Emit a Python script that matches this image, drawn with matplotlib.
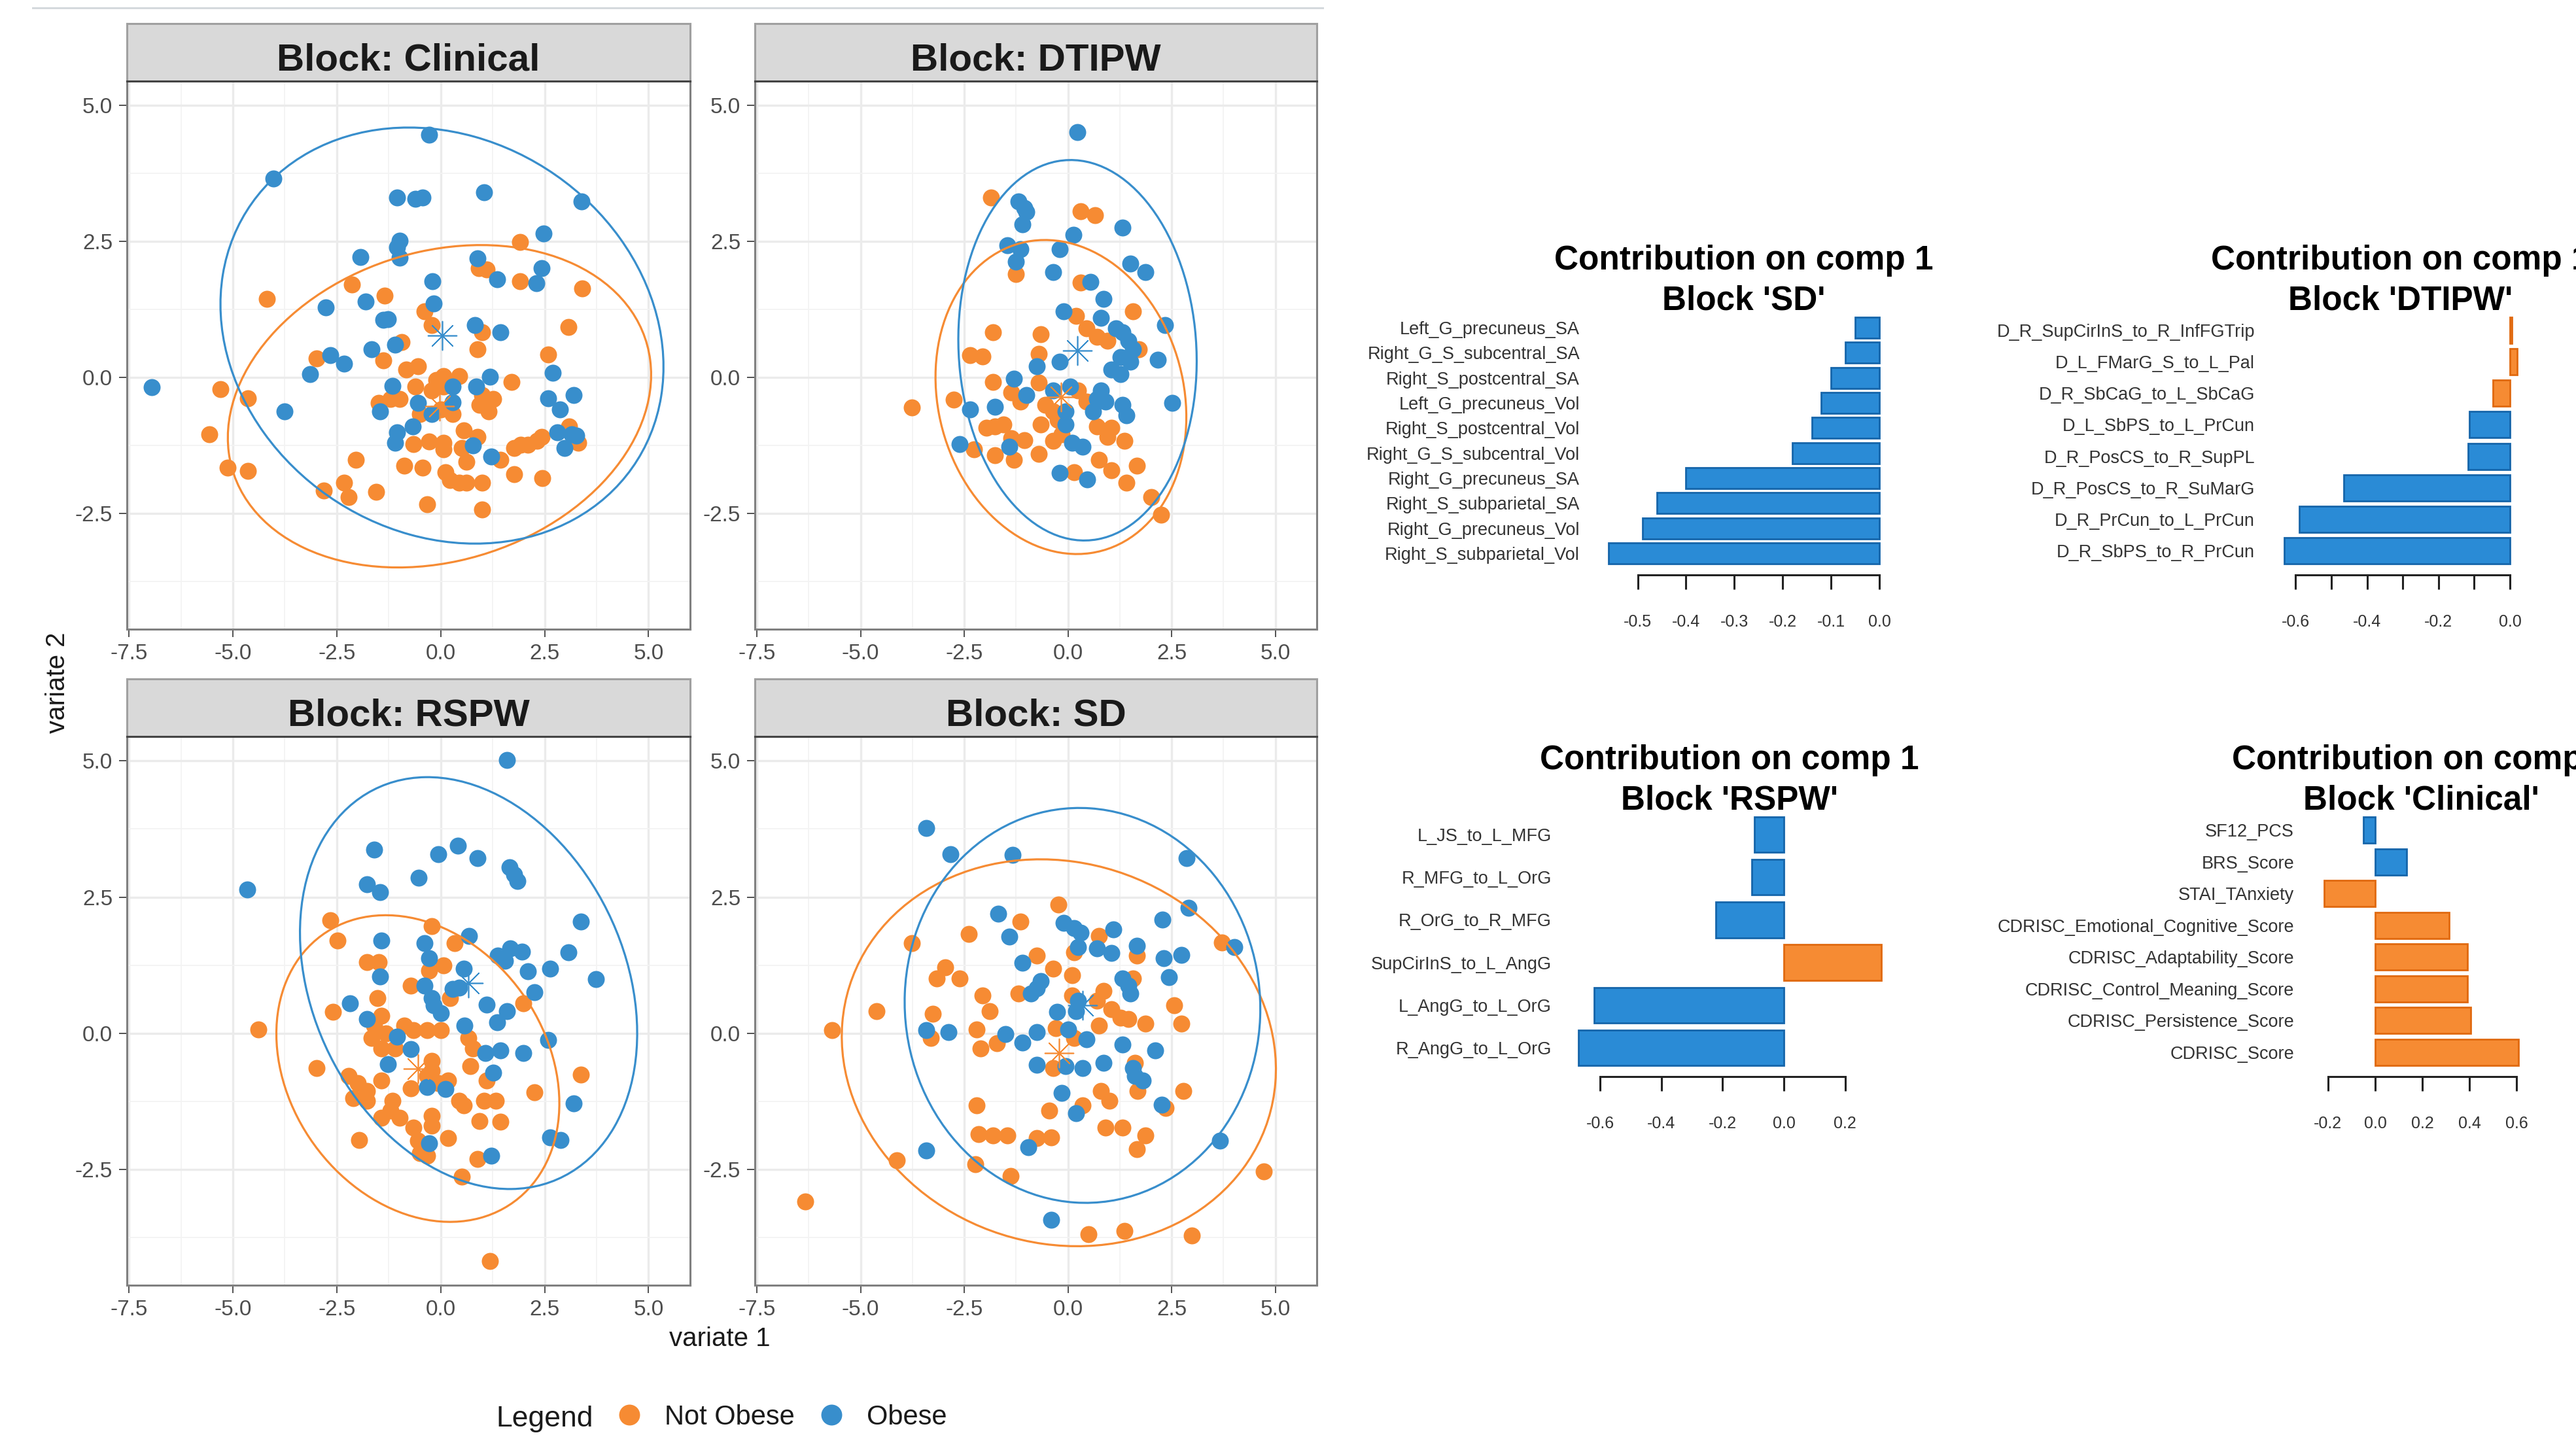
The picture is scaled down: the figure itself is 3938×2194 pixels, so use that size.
import numpy as np
import matplotlib
matplotlib.use('Agg')
import matplotlib.pyplot as plt
from matplotlib.patches import Ellipse
from matplotlib.lines import Line2D

plt.rcParams['font.family'] = ['Liberation Sans', 'DejaVu Sans']
plt.rcParams['axes.unicode_minus'] = False

W, H, DPI = 3938, 2194, 100
PT = 72 / DPI  # points per pixel


def box(x0, y0, x1, y1):
    # pixel box (top-left origin) -> figure fraction rect
    return [x0 / W, 1 - y1 / H, (x1 - x0) / W, (y1 - y0) / H]


# ---------------- sample scores (variate 1, variate 2) ----------------
clinical_notobese = np.array([
    (1.91, 2.49), (0.92, 2.01), (1.10, 1.99), (1.91, 1.77), (3.40, 1.64), (-2.13, 1.71), (-1.35, 1.50),
    (-4.19, 1.44), (-0.39, 1.22), (-0.22, 0.96), (3.07, 0.93), (0.99, 0.83), (0.88, 0.52), (-0.94, 0.65),
    (-2.98, 0.35), (-1.38, 0.31), (2.59, 0.42), (-0.83, 0.15), (-0.55, 0.20), (1.71, -0.08), (-5.30, -0.21),
    (-4.64, -0.38), (0.06, 0.02), (0.44, 0.02), (-0.11, -0.05), (-0.61, -0.17), (-0.22, -0.24), (0.06, -0.17),
    (0.99, -0.32), (1.27, -0.40), (0.94, -0.51), (1.16, -0.63), (-1.21, -0.40), (-0.99, -0.40), (-1.49, -0.47),
    (-0.50, -0.67), (0.00, -0.59), (0.28, -0.67), (0.55, -0.97), (0.88, -1.09), (-5.57, -1.05), (-0.66, -1.22),
    (-0.28, -1.18), (0.06, -1.20), (0.06, -1.32), (0.50, -1.30), (0.61, -1.55), (1.77, -1.30), (1.93, -1.24),
    (2.10, -1.24), (2.32, -1.16), (2.43, -1.09), (1.44, -1.51), (3.09, -0.90), (3.31, -1.20), (-5.13, -1.66),
    (-4.64, -1.72), (-2.04, -1.51), (-0.88, -1.62), (-0.44, -1.66), (0.11, -1.74), (0.22, -1.89), (0.61, -1.94),
    (0.99, -1.94), (1.77, -1.78), (2.45, -1.85), (-2.32, -1.93), (-2.21, -2.20), (-2.81, -2.08), (-1.55, -2.10),
    (-0.33, -2.33), (0.99, -2.43), (0.44, -1.93)])
clinical_obese = np.array([
    (-0.28, 4.46), (-4.03, 3.66), (-1.05, 3.31), (-0.61, 3.29), (-0.44, 3.31), (1.05, 3.41), (3.39, 3.24),
    (2.48, 2.65), (-0.99, 2.52), (-1.05, 2.39), (-0.99, 2.20), (-1.93, 2.22), (0.88, 2.19), (2.43, 2.01),
    (1.36, 1.80), (2.30, 1.73), (-0.20, 1.77), (-2.76, 1.29), (-1.80, 1.40), (-0.17, 1.36), (-1.27, 1.07),
    (-1.38, 1.06), (0.83, 0.96), (1.44, 0.83), (-1.10, 0.60), (-1.66, 0.52), (-2.65, 0.41), (-2.32, 0.25),
    (-3.15, 0.06), (2.70, 0.08), (1.19, 0.01), (0.85, -0.17), (-1.16, -0.15), (0.28, -0.17), (-6.95, -0.18),
    (3.20, -0.32), (2.59, -0.38), (2.87, -0.59), (-0.55, -0.47), (-0.22, -0.67), (0.28, -0.46), (-3.75, -0.63),
    (-1.46, -0.63), (-0.68, -0.90), (-1.05, -1.01), (-1.10, -1.20), (0.77, -1.25), (2.81, -1.01), (3.15, -1.05),
    (3.26, -1.07), (2.98, -1.30), (1.21, -1.45)])

dtipw_notobese = np.array([
    (-1.86, 3.31), (0.30, 3.06), (0.65, 2.98), (-1.26, 1.90), (0.30, 1.74), (1.56, 1.21), (0.20, 1.13),
    (0.45, 0.90), (0.70, 0.75), (0.95, 0.67), (1.71, 0.52), (-1.81, 0.83), (-0.65, 0.79), (-2.36, 0.41),
    (-2.06, 0.38), (-0.70, 0.44), (-0.70, -0.09), (-1.81, -0.08), (-3.77, -0.55), (-2.76, -0.41), (-1.36, -0.28),
    (-1.15, -0.44), (-0.55, -0.51), (-0.35, -0.63), (-0.65, -0.86), (-0.25, -0.78), (-1.96, -0.93), (-1.76, -0.90),
    (-1.56, -0.86), (-1.36, -1.12), (-1.05, -1.15), (-2.26, -1.32), (-1.76, -1.43), (-1.31, -1.51), (-0.70, -1.41),
    (0.70, -0.90), (1.05, -0.93), (0.95, -1.09), (1.36, -1.16), (0.75, -1.51), (1.05, -1.71), (1.66, -1.62),
    (1.41, -1.94), (0.15, -1.74), (2.01, -2.20), (2.24, -2.52), (0.25, -0.24), (0.45, -0.44), (-0.15, -1.05),
    (-0.35, -1.16)])
dtipw_obese = np.array([
    (0.23, 4.51), (-1.20, 3.24), (-1.05, 3.12), (-1.00, 3.05), (-1.10, 2.82), (1.31, 2.75), (0.13, 2.62),
    (-1.46, 2.43), (-1.15, 2.36), (-0.20, 2.36), (-1.26, 2.13), (1.51, 2.09), (1.86, 1.94), (-0.35, 1.94),
    (0.55, 1.76), (0.85, 1.44), (-0.10, 1.21), (0.80, 1.09), (2.34, 0.96), (1.15, 0.90), (1.31, 0.83),
    (1.46, 0.67), (1.56, 0.52), (1.26, 0.37), (1.51, 0.29), (2.16, 0.33), (1.05, 0.15), (1.26, 0.06),
    (-0.20, 0.29), (-0.75, 0.21), (-1.31, -0.02), (0.05, -0.17), (-0.35, -0.24), (-1.00, -0.32), (0.80, -0.24),
    (0.70, -0.40), (0.90, -0.44), (0.60, -0.63), (1.31, -0.51), (1.41, -0.70), (2.51, -0.47), (-2.36, -0.59),
    (-1.76, -0.54), (-0.05, -0.63), (-0.05, -0.86), (-2.61, -1.22), (-1.41, -1.28), (0.10, -1.20), (0.35, -1.28),
    (-0.20, -1.76), (0.47, -1.87)])

rspw_notobese = np.array([
    (-2.65, 2.07), (-2.48, 1.70), (-0.22, 1.97), (0.33, 1.65), (-1.77, 1.30), (-1.49, 1.30), (-0.28, 1.15),
    (0.06, 1.24), (-0.72, 0.87), (-1.52, 0.64), (0.22, 0.64), (1.99, 0.55), (-2.59, 0.39), (-1.43, 0.32),
    (-1.60, 0.14), (-1.32, 0.00), (-1.66, -0.09), (-0.88, 0.14), (-0.66, 0.05), (-0.33, 0.05), (0.00, 0.05),
    (-4.39, 0.07), (0.66, -0.09), (0.77, -0.28), (-1.43, -0.28), (-1.10, -0.28), (-2.98, -0.64), (-0.22, -0.51),
    (-0.22, -0.69), (0.72, -0.60), (-2.21, -0.78), (-1.99, -0.92), (-1.77, -1.06), (-1.43, -0.87), (-0.72, -1.01),
    (-0.33, -0.78), (-0.06, -0.92), (0.17, -0.87), (1.10, -0.87), (3.37, -0.76), (2.26, -1.08), (-2.10, -1.19),
    (-1.77, -1.24), (-1.16, -1.24), (-1.21, -1.42), (-1.43, -1.56), (-0.99, -1.56), (0.44, -1.24), (0.55, -1.33),
    (1.05, -1.24), (1.32, -1.24), (-0.22, -1.52), (-0.22, -1.70), (1.43, -1.63), (0.94, -1.61), (-0.66, -1.74),
    (-0.55, -1.97), (0.17, -1.93), (-1.96, -1.96), (-0.50, -2.20), (-0.33, -2.25), (0.88, -2.31), (0.50, -2.64),
    (1.19, -4.18)])
rspw_obese = np.array([
    (1.60, 5.02), (-4.66, 2.64), (-1.60, 3.37), (0.42, 3.44), (-0.06, 3.29), (0.88, 3.21), (1.66, 3.05),
    (1.77, 2.92), (1.85, 2.80), (-0.53, 2.85), (-1.77, 2.74), (-1.46, 2.59), (3.37, 2.05), (-1.43, 1.70),
    (-0.39, 1.65), (0.68, 1.79), (-0.28, 1.38), (1.38, 1.42), (1.68, 1.56), (1.96, 1.50), (1.55, 1.33),
    (3.07, 1.49), (2.10, 1.14), (2.63, 1.18), (0.55, 1.19), (3.73, 0.99), (-1.46, 1.04), (-0.39, 0.87),
    (0.28, 0.81), (0.44, 0.84), (-0.22, 0.64), (-0.17, 0.51), (0.00, 0.37), (2.26, 0.75), (-2.19, 0.55),
    (1.10, 0.53), (1.60, 0.41), (1.35, 0.20), (-1.77, 0.26), (0.57, 0.14), (2.59, -0.12), (-1.05, -0.06),
    (-0.72, -0.29), (1.08, -0.37), (1.43, -0.32), (1.99, -0.37), (-1.27, -0.57), (1.27, -0.73), (-0.33, -0.99),
    (0.11, -1.03), (3.20, -1.29), (2.63, -1.91), (2.89, -1.96), (-0.28, -2.02), (1.21, -2.25)])

sd_notobese = np.array([
    (-0.23, 2.36), (-1.15, 2.05), (-2.39, 1.82), (0.75, 1.79), (-3.77, 1.65), (0.15, 1.49), (-0.75, 1.42),
    (1.66, 1.42), (3.71, 1.67), (-2.96, 1.21), (-3.16, 1.01), (-2.61, 1.01), (-0.35, 1.18), (0.10, 1.07),
    (1.56, 1.01), (-2.06, 0.69), (-1.20, 0.73), (0.10, 0.69), (0.85, 0.78), (0.70, 0.60), (-1.88, 0.41),
    (-3.26, 0.35), (-4.62, 0.41), (2.56, 0.51), (2.74, 0.18), (1.05, 0.44), (1.26, 0.28), (1.46, 0.26),
    (1.86, 0.18), (-5.69, 0.05), (-2.21, 0.07), (-3.31, -0.09), (-2.11, -0.28), (-1.71, -0.18), (-0.30, 0.09),
    (0.15, -0.09), (0.75, 0.14), (-0.35, -0.64), (1.61, -0.55), (1.68, -1.06), (0.80, -1.06), (1.00, -1.24),
    (2.78, -1.06), (-2.21, -1.33), (-0.45, -1.42), (0.35, -1.33), (2.36, -1.38), (-2.16, -1.85), (-1.81, -1.88),
    (-1.46, -1.88), (-0.75, -1.93), (-0.40, -1.91), (0.90, -1.73), (1.31, -1.73), (1.86, -1.88), (1.66, -2.13),
    (-2.24, -2.41), (-1.38, -2.62), (-4.12, -2.34), (-6.33, -3.09), (4.72, -2.54), (0.50, -3.69), (1.36, -3.63),
    (2.99, -3.72)])
sd_obese = np.array([
    (-3.41, 3.77), (-2.84, 3.29), (-1.33, 3.28), (2.86, 3.21), (2.91, 2.30), (-1.68, 2.19), (2.28, 2.08),
    (-1.41, 1.77), (-0.10, 2.02), (0.15, 1.93), (0.30, 1.84), (1.10, 1.90), (1.66, 1.61), (0.25, 1.58),
    (0.70, 1.56), (1.05, 1.47), (4.02, 1.58), (2.31, 1.38), (2.74, 1.44), (2.44, 1.03), (-1.10, 1.29),
    (-0.65, 0.96), (-0.75, 0.83), (-0.90, 0.73), (1.31, 1.01), (1.46, 0.87), (1.51, 0.73), (0.25, 0.60),
    (0.20, 0.41), (-0.27, 0.39), (-3.41, 0.05), (-2.88, 0.02), (-1.51, -0.02), (-0.75, 0.02), (0.00, 0.07),
    (0.45, -0.11), (-1.10, -0.17), (1.31, -0.21), (2.11, -0.32), (-0.75, -0.58), (-0.05, -0.60), (0.35, -0.64),
    (0.85, -0.55), (1.56, -0.64), (1.61, -0.78), (1.81, -0.87), (-0.15, -1.10), (0.20, -1.47), (2.26, -1.31),
    (-3.41, -2.16), (-0.95, -2.09), (3.66, -1.97), (-0.40, -3.43)])

blocks = ['Clinical', 'DTIPW', 'RSPW', 'SD']
groups = ['Not Obese', 'Obese']
group_colors = ['#F68B33', '#388ECC']

# centroids and 95% ellipses per block (Clinical, DTIPW, RSPW, SD)
centre_notobese_x = [-0.03, -0.17, -0.55, -0.22]
centre_notobese_y = [-0.53, -0.36, -0.65, -0.36]
centre_obese_x = [0.03, 0.23, 0.67, 0.35]
centre_obese_y = [0.77, 0.50, 0.92, 0.51]
ell_notobese_w = [10.28, 6.3, 7.1, 10.5]
ell_notobese_h = [5.76, 5.5, 5.26, 7.06]
ell_notobese_angle = [9.5, -35, -25, -6]
ell_obese_w = [10.78, 5.72, 8.78, 8.58]
ell_obese_h = [7.48, 7.02, 6.78, 7.25]
ell_obese_angle = [-12, 8, -37, -3]

# ---------------- loadings (top to bottom) ----------------
sd_vars = ['Left_G_precuneus_SA', 'Right_G_S_subcentral_SA', 'Right_S_postcentral_SA', 'Left_G_precuneus_Vol',
           'Right_S_postcentral_Vol', 'Right_G_S_subcentral_Vol', 'Right_G_precuneus_SA',
           'Right_S_subparietal_SA', 'Right_G_precuneus_Vol', 'Right_S_subparietal_Vol']
sd_vals = [-0.05, -0.07, -0.10, -0.12, -0.14, -0.18, -0.40, -0.46, -0.49, -0.56]
sd_group = ['Obese'] * 10
sd_ticks = [-0.5, -0.4, -0.3, -0.2, -0.1, 0.0]
sd_ticklabels = ['-0.5', '-0.4', '-0.3', '-0.2', '-0.1', '0.0']

dtipw_vars = ['D_R_SupCirInS_to_R_InfFGTrip', 'D_L_FMarG_S_to_L_Pal', 'D_R_SbCaG_to_L_SbCaG',
              'D_L_SbPS_to_L_PrCun', 'D_R_PosCS_to_R_SupPL', 'D_R_PosCS_to_R_SuMarG',
              'D_R_PrCun_to_L_PrCun', 'D_R_SbPS_to_R_PrCun']
dtipw_vals = [0.005, 0.02, -0.048, -0.113, -0.118, -0.466, -0.589, -0.632]
dtipw_group = ['Not Obese', 'Not Obese', 'Not Obese', 'Obese', 'Obese', 'Obese', 'Obese', 'Obese']
dtipw_ticks = [-0.6, -0.5, -0.4, -0.3, -0.2, -0.1, 0.0]
dtipw_ticklabels = ['-0.6', '', '-0.4', '', '-0.2', '', '0.0']

rspw_vars = ['L_JS_to_L_MFG', 'R_MFG_to_L_OrG', 'R_OrG_to_R_MFG', 'SupCirInS_to_L_AngG',
             'L_AngG_to_L_OrG', 'R_AngG_to_L_OrG']
rspw_vals = [-0.097, -0.105, -0.223, 0.318, -0.62, -0.672]
rspw_group = ['Obese', 'Obese', 'Obese', 'Not Obese', 'Obese', 'Obese']
rspw_ticks = [-0.6, -0.4, -0.2, 0.0, 0.2]
rspw_ticklabels = ['-0.6', '-0.4', '-0.2', '0.0', '0.2']

clinical_vars = ['SF12_PCS', 'BRS_Score', 'STAI_TAnxiety', 'CDRISC_Emotional_Cognitive_Score',
                 'CDRISC_Adaptability_Score', 'CDRISC_Control_Meaning_Score', 'CDRISC_Persistence_Score',
                 'CDRISC_Score']
clinical_vals = [-0.05, 0.133, -0.216, 0.312, 0.39, 0.39, 0.406, 0.607]
clinical_group = ['Obese', 'Obese'] + ['Not Obese'] * 6
clinical_ticks = [-0.2, 0.0, 0.2, 0.4, 0.6]
clinical_ticklabels = ['-0.2', '0.0', '0.2', '0.4', '0.6']

bar_fill = {'Not Obese': '#F68B33', 'Obese': '#2A8BD6'}
bar_edge = {'Not Obese': '#E0690F', 'Obese': '#1565AA'}

fig = plt.figure(figsize=(W / DPI, H / DPI), dpi=DPI)
fig.add_artist(Line2D([50 / W, 2022 / W], [1 - 12 / H] * 2, color='#D5D9DD', lw=3 * PT))

# ---------------- faceted score plots ----------------
scores = {'Clinical': (clinical_notobese, clinical_obese), 'DTIPW': (dtipw_notobese, dtipw_obese),
          'RSPW': (rspw_notobese, rspw_obese), 'SD': (sd_notobese, sd_obese)}
panel_px = [(194, 124, 1055, 962), (1154, 124, 2013, 962), (194, 1126, 1055, 1965), (1154, 1126, 2013, 1965)]
strip_h = 88

for k, blk in enumerate(blocks):
    x0, y0, x1, y1 = panel_px[k]
    ax = fig.add_axes(box(x0, y0, x1, y1))
    ax.set_xlim(-7.55, 6.0)
    ax.set_ylim(-4.63, 5.45)
    ax.set_xticks([-7.5, -5.0, -2.5, 0.0, 2.5, 5.0])
    ax.set_xticklabels(['-7.5', '-5.0', '-2.5', '0.0', '2.5', '5.0'])
    ax.set_yticks([-2.5, 0.0, 2.5, 5.0])
    ax.set_yticklabels(['-2.5', '0.0', '2.5', '5.0'])
    ax.set_xticks([-6.25, -3.75, -1.25, 1.25, 3.75], minor=True)
    ax.set_yticks([-3.75, -1.25, 1.25, 3.75], minor=True)
    ax.grid(which='major', color='#EBEBEB', lw=2.4)
    ax.grid(which='minor', color='#F3F3F3', lw=1.3)
    ax.set_axisbelow(True)
    ax.tick_params(which='minor', length=0)
    ax.tick_params(which='major', length=12 * PT, width=2 * PT, color='#555555',
                   labelsize=24, labelcolor='#4D4D4D', pad=7)
    for s in ax.spines.values():
        s.set_color('#808080')
        s.set_linewidth(2.2)
    ax.spines['top'].set_color('#444444')

    pts_no, pts_ob = scores[blk]
    ax.scatter(pts_no[:, 0], pts_no[:, 1], s=350, color=group_colors[0], linewidths=0, zorder=3)
    ax.scatter(pts_ob[:, 0], pts_ob[:, 1], s=350, color=group_colors[1], linewidths=0, zorder=3)

    ax.add_patch(Ellipse((centre_notobese_x[k], centre_notobese_y[k]), ell_notobese_w[k], ell_notobese_h[k],
                         angle=ell_notobese_angle[k], fill=False, ec=group_colors[0], lw=2.3, zorder=4))
    ax.add_patch(Ellipse((centre_obese_x[k], centre_obese_y[k]), ell_obese_w[k], ell_obese_h[k],
                         angle=ell_obese_angle[k], fill=False, ec=group_colors[1], lw=2.3, zorder=4))
    ax.scatter([centre_notobese_x[k]], [centre_notobese_y[k]], marker=(8, 2, 0), s=1000,
               color=group_colors[0], linewidths=1.2, zorder=5)
    ax.scatter([centre_obese_x[k]], [centre_obese_y[k]], marker=(8, 2, 0), s=1000,
               color=group_colors[1], linewidths=1.2, zorder=5)

    st = fig.add_axes(box(x0, y0 - strip_h, x1, y0))
    st.set_facecolor('#D9D9D9')
    st.set_xticks([])
    st.set_yticks([])
    for s in st.spines.values():
        s.set_color('#A0A0A0')
        s.set_linewidth(2.2)
    st.spines['bottom'].set_color('#444444')
    st.text(0.5, 17 / strip_h, 'Block: ' + blk, ha='center', va='baseline', fontsize=42,
            fontweight='bold', color='#1A1A1A', transform=st.transAxes)

fig.text(88 / W, 1 - 1044 / H, 'variate 2', rotation=90, ha='center', va='center', fontsize=29, color='#1A1A1A')
fig.text(1100 / W, 1 - 2047 / H, 'variate 1', ha='center', va='center', fontsize=29, color='#1A1A1A')

fig.text(833 / W, 1 - 2169 / H, 'Legend', ha='center', va='center', fontsize=32, color='#1A1A1A')
handles = [Line2D([], [], ls='none', marker='o', ms=23, mec='none', mfc=c) for c in group_colors]
fig.legend(handles, groups, ncol=2, loc='center left', bbox_to_anchor=(941 / W, 1 - 2167 / H),
           frameon=False, fontsize=30, handlelength=1.0, handletextpad=0.8, columnspacing=0.85,
           borderpad=0, borderaxespad=0, labelcolor='#1A1A1A')

# ---------------- loading bar plots ----------------
bar_sets = [('SD', sd_vars, sd_vals, sd_group, sd_ticks, sd_ticklabels),
            ('DTIPW', dtipw_vars, dtipw_vals, dtipw_group, dtipw_ticks, dtipw_ticklabels),
            ('RSPW', rspw_vars, rspw_vals, rspw_group, rspw_ticks, rspw_ticklabels),
            ('Clinical', clinical_vars, clinical_vals, clinical_group, clinical_ticks, clinical_ticklabels)]
# zero position px, px per unit, top px, bottom px, label right edge px
bar_px = [(2873, 739, 485, 862, 2415), (3837, 546, 485, 862, 3447),
          (2727, 468, 1249, 1629, 2372), (3631, 360.7, 1249, 1629, 3507)]

for (blk, names, vals, grp, ticks, tlabels), (zero, scale, top, bot, lab_r) in zip(bar_sets, bar_px):
    lo = min(min(vals), 0.0)
    hi = max(max(vals), 0.0)
    left = zero + lo * scale
    right = zero + hi * scale
    ax = fig.add_axes(box(left, top, right, bot))
    ax.patch.set_visible(False)
    n = len(vals)
    pos = (n - 1 - np.arange(n)) * 1.2
    bars = ax.barh(pos, vals, height=1.0, color=[bar_fill[g] for g in grp],
                   edgecolor=[bar_edge[g] for g in grp], linewidth=2)
    for b in bars:
        b.set_clip_on(False)
    ax.set_xlim(lo, hi)
    ax.set_ylim(-0.5, (n - 1) * 1.2 + 0.5)
    ax.set_yticks(pos)
    ax.set_yticklabels(names, fontsize=19.5, color='#333333')
    ax.tick_params(axis='y', length=0, pad=(left - lab_r) * PT)
    for s in ['left', 'right', 'top']:
        ax.spines[s].set_visible(False)
    ax.spines['bottom'].set_position(('outward', 17 * PT))
    ax.spines['bottom'].set_bounds(ticks[0], ticks[-1])
    ax.spines['bottom'].set_linewidth(2.2)
    ax.spines['bottom'].set_color('#222222')
    ax.set_xticks(ticks)
    ax.set_xticklabels(tlabels, fontsize=18, color='#333333')
    ax.tick_params(axis='x', length=22 * PT, width=2.2, color='#222222', pad=38 * PT)
    ax.set_title("Contribution on comp 1\nBlock '%s'" % blk, fontsize=37, fontweight='bold',
                 pad=9 * PT, linespacing=1.34)

fig.savefig('out.png', dpi=DPI)
